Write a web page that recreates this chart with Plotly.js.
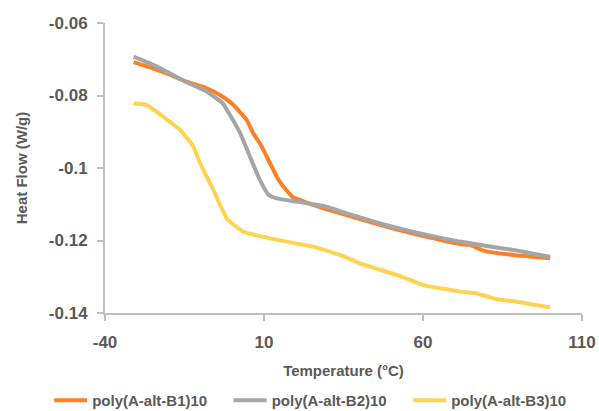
<!DOCTYPE html>
<html>
<head>
<meta charset="utf-8">
<script src="https://cdn.plot.ly/plotly-3.0.1.min.js"></script>
<style>html,body{margin:0;padding:0;background:#fff;}#chart{width:599px;height:411px;}</style>
</head>
<body>
<div id="chart"></div>
<script>
// Series names
const seriesNames = ["poly(A-alt-B1)10", "poly(A-alt-B2)10", "poly(A-alt-B3)10"];

// poly(A-alt-B1)10
const tempB1 = [-31, -25, -20, -14.3, -8, -4, 0, 4.6, 6.6, 8.7, 11.9, 14, 16.1, 19.2, 21.3, 25.5, 30, 36, 46.5, 55, 61.2, 71.6, 74.8, 79, 88.4, 100];
const flowB1 = [-0.0708, -0.0725, -0.0741, -0.0762, -0.0780, -0.0798, -0.0823, -0.0868, -0.0904, -0.0932, -0.0987, -0.1024, -0.1052, -0.1081, -0.1088, -0.1102, -0.1115, -0.1130, -0.1157, -0.1177, -0.1190, -0.1210, -0.1212, -0.1228, -0.1240, -0.1249];

// poly(A-alt-B2)10
const tempB2 = [-31, -25, -19.6, -14, -8, -3, -0.7, 2.5, 5.6, 8.7, 11.4, 14, 21.3, 29.7, 36, 46.5, 55, 61.2, 71.6, 80, 88.4, 100];
const flowB2 = [-0.0693, -0.0715, -0.0739, -0.0765, -0.0789, -0.0822, -0.0854, -0.0904, -0.0969, -0.1033, -0.1074, -0.1084, -0.1094, -0.1107, -0.1125, -0.1153, -0.1172, -0.1185, -0.1203, -0.1215, -0.1226, -0.1245];

// poly(A-alt-B3)10
const tempB3 = [-31, -27, -23.7, -20, -16.4, -12.2, -10.1, -8, -5.9, -1.7, 3.5, 11.9, 21.3, 25.5, 34.9, 40.2, 52.8, 60.1, 71.6, 76.9, 83.2, 89.4, 100];
const flowB3 = [-0.0822, -0.0826, -0.0845, -0.0870, -0.0895, -0.0941, -0.0987, -0.1024, -0.1061, -0.1139, -0.1176, -0.1194, -0.1210, -0.1217, -0.1243, -0.1263, -0.1298, -0.1323, -0.1341, -0.1346, -0.1362, -0.1369, -0.1385];

// Tick labels
const xTickVals = [-40, 10, 60, 110];
const xTickText = ["-40", "10", "60", "110"];
const yTickVals = [-0.14, -0.12, -0.1, -0.08, -0.06];
const yTickText = ["-0.14", "-0.12", "-0.1", "-0.08", "-0.06"];

const colors = ["#FF7F27", "#A5A5A5", "#FFD34F"];
const xs = [tempB1, tempB2, tempB3];
const ys = [flowB1, flowB2, flowB3];

const traces = seriesNames.map((n, i) => ({
  type: "scatter",
  mode: "lines",
  name: n,
  x: xs[i],
  y: ys[i],
  line: {color: colors[i], width: 4, shape: "spline", smoothing: 0.4}
}));

const fontFam = "Liberation Sans, Arial, sans-serif";
const txtColor = "#595959";

const layout = {
  width: 599,
  height: 411,
  margin: {l: 105, r: 17, t: 23, b: 98, autoexpand: false},
  paper_bgcolor: "#ffffff",
  plot_bgcolor: "#ffffff",
  font: {family: fontFam, color: txtColor},
  showlegend: true,
  xaxis: {
    range: [-40, 110],
    tickvals: xTickVals,
    ticktext: xTickText,
    showgrid: false,
    zeroline: false,
    showline: true,
    linecolor: "#BFBFBF",
    linewidth: 2,
    ticks: "outside",
    ticklen: 6,
    tickwidth: 2,
    tickcolor: "#BFBFBF",
    ticklabelstandoff: 7,
    tickfont: {family: fontFam, size: 17, color: txtColor, weight: "bold"},
    title: {text: "Temperature (°C)", font: {family: fontFam, size: 15, color: txtColor, weight: "bold"}, standoff: 14},
    automargin: false,
    fixedrange: true
  },
  yaxis: {
    range: [-0.14, -0.06],
    tickvals: yTickVals,
    ticktext: yTickText,
    showgrid: false,
    zeroline: false,
    showline: true,
    linecolor: "#BFBFBF",
    linewidth: 2,
    ticks: "outside",
    ticklen: 6,
    tickwidth: 2,
    tickcolor: "#BFBFBF",
    ticklabelstandoff: 6,
    tickfont: {family: fontFam, size: 17, color: txtColor, weight: "bold"},
    title: {text: "Heat Flow (W/g)", font: {family: fontFam, size: 15, color: txtColor, weight: "bold"}, standoff: 18},
    automargin: false,
    fixedrange: true
  },
  legend: {
    orientation: "h",
    x: -0.117,
    xanchor: "left",
    y: -0.245,
    yanchor: "top",
    itemwidth: 33,
    entrywidth: 131.5,
    entrywidthmode: "pixels",
    font: {family: fontFam, size: 15, color: txtColor, weight: "bold"},
    bgcolor: "rgba(0,0,0,0)"
  }
};

Plotly.newPlot("chart", traces, layout, {displayModeBar: false, staticPlot: true});
</script>
</body>
</html>
